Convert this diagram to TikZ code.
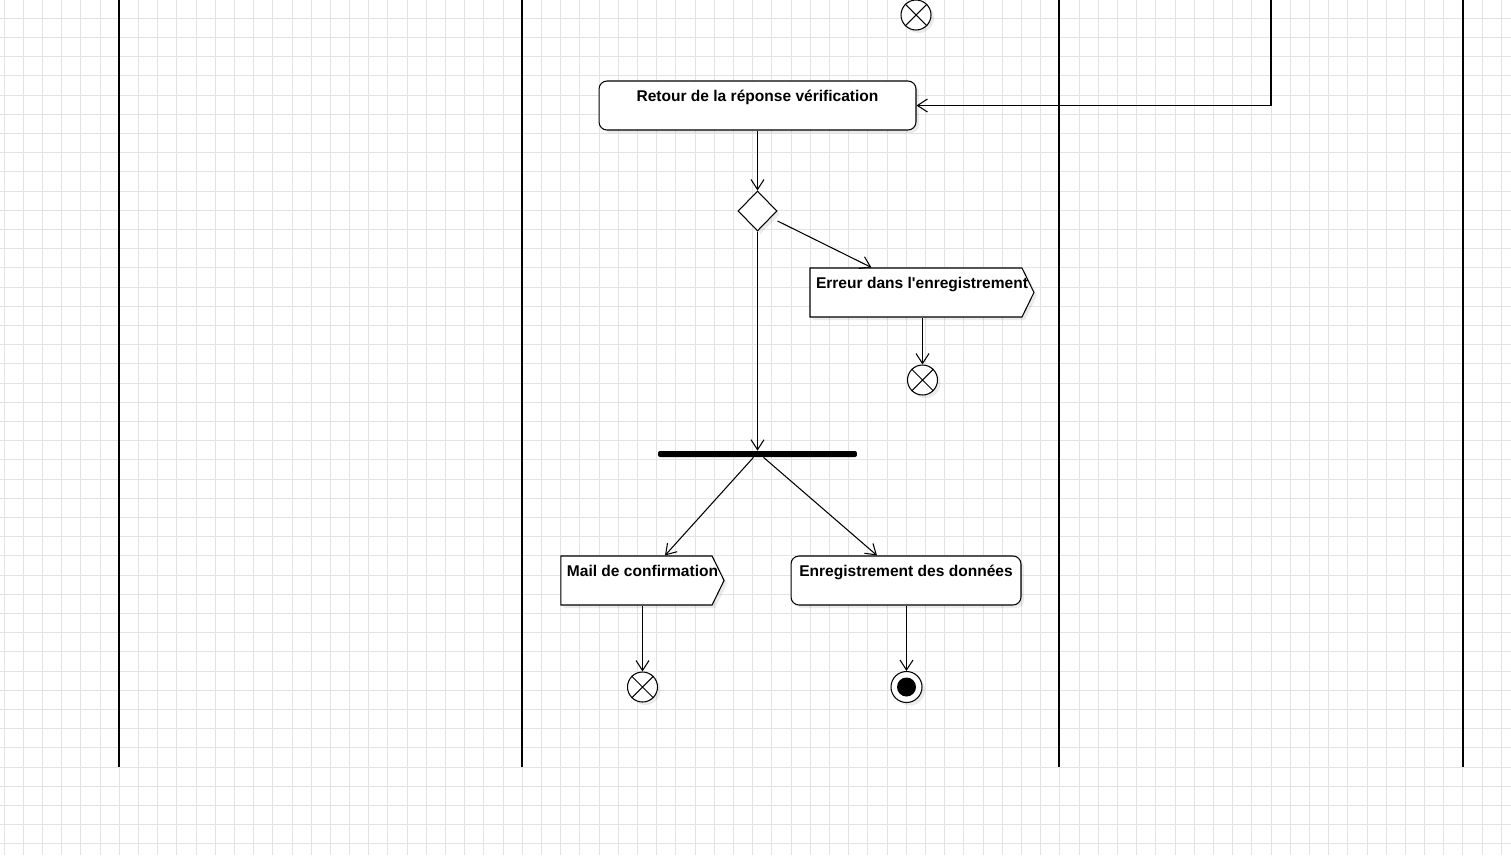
\documentclass[tikz,border=0pt]{standalone}
\usepackage{fontspec}
\setmainfont{Liberation Sans}
\usetikzlibrary{arrows.meta,shapes.geometric,shapes.symbols,shadows}

\begin{document}
\begin{tikzpicture}[x=0.02cm,y=-0.02cm,
    every node/.style={font=\fontsize{8.85}{10}\selectfont\bfseries},
    gridline/.style={line width=0.5pt,black!11},
    lane/.style={line width=1.2pt},
    shade/.style={drop shadow={shadow xshift=0.06cm,shadow yshift=-0.06cm,fill=black,opacity=0.08}},
    action/.style={draw,line width=0.6pt,fill=white,rounded corners=0.16cm,inner sep=0pt,
        text height=0.4cm,text depth=0.58cm,shade},
    sendsig/.style={draw,line width=0.6pt,fill=white,signal,signal to=east,signal pointer angle=128,
        inner sep=0pt,text height=0.4cm,text depth=0.58cm,shade,
        execute at begin node=\kern0.12cm,execute at end node=\kern-0.12cm},
    flowend/.style={draw,circle,line width=0.6pt,fill=white,minimum size=0.6cm,inner sep=0pt,shade},
    decision/.style={draw,diamond,aspect=1,line width=0.6pt,fill=white,minimum width=0.78cm,minimum height=0.8cm,inner sep=0pt,shade},
    forkbar/.style={fill=black,rounded corners=0.04cm,minimum width=3.98cm,minimum height=0.12cm,inner sep=0pt},
    flow/.style={line width=0.6pt,-{Straight Barb[length=0.2cm,width=0.26cm]}}]
    \useasboundingbox (0,0) rectangle (1511,856);
    \begin{scope}[xshift=0.08cm,yshift=0.018cm]
        \clip (-4,-1) rectangle (1507,855);
        \draw[gridline] (-20,-20) grid[step=0.384cm] (1540,880);
    \end{scope}
    \foreach \lx in {119,522,1059,1463}
        \draw[lane] (\lx,0) -- (\lx,767);

    \node[flowend] (topend) at (916,15) {};
    \draw[line width=0.6pt] (topend.north east) -- (topend.south west) (topend.north west) -- (topend.south east);

    \node[action,minimum width=6.34cm] (retour) at (757.5,105.5) {Retour de la r\'eponse v\'erification};
    \coordinate (incoming) at (1271,0);
    \draw[flow] (incoming) |- (retour.east);

    \node[decision] (dec) at (757.5,211) {};
    \draw[flow] (retour) -- (dec);

    \node[sendsig,minimum width=4.48cm] (erreur) at (916,292.5) {Erreur dans l\textquotesingle enregistrement};
    \draw[flow] ([yshift=-0.2cm]dec.east) -- ([xshift=1.24cm]erreur.north west);
    \node[flowend] (errend) at (922.5,380) {};
    \draw[line width=0.6pt] (errend.north east) -- (errend.south west) (errend.north west) -- (errend.south east);
    \draw[flow] (erreur.south -| errend) -- (errend);

    \node[forkbar] (fork) at (757.5,454) {};
    \draw[flow] (dec) -- (fork);

    \node[sendsig,minimum width=3.26cm] (mail) at (636.5,580.5) {Mail de confirmation};
    \node[action,minimum width=4.6cm] (enreg) at (906,580.5) {Enregistrement des donn\'ees};
    \draw[flow] ([xshift=-0.08cm]fork.south) -- ([xshift=0.57cm]mail.north);
    \draw[flow] ([xshift=0.12cm]fork.south) -- ([xshift=-0.58cm]enreg.north);

    \node[flowend] (mailend) at (642.5,687) {};
    \draw[line width=0.6pt] (mailend.north east) -- (mailend.south west) (mailend.north west) -- (mailend.south east);
    \draw[flow] (mail.south -| mailend) -- (mailend);

    \node[flowend,minimum size=0.62cm] (final) at (906.5,687) {};
    \fill (final) circle (0.19cm);
    \draw[flow] (enreg.south -| final) -- (final);
\end{tikzpicture}
\end{document}
